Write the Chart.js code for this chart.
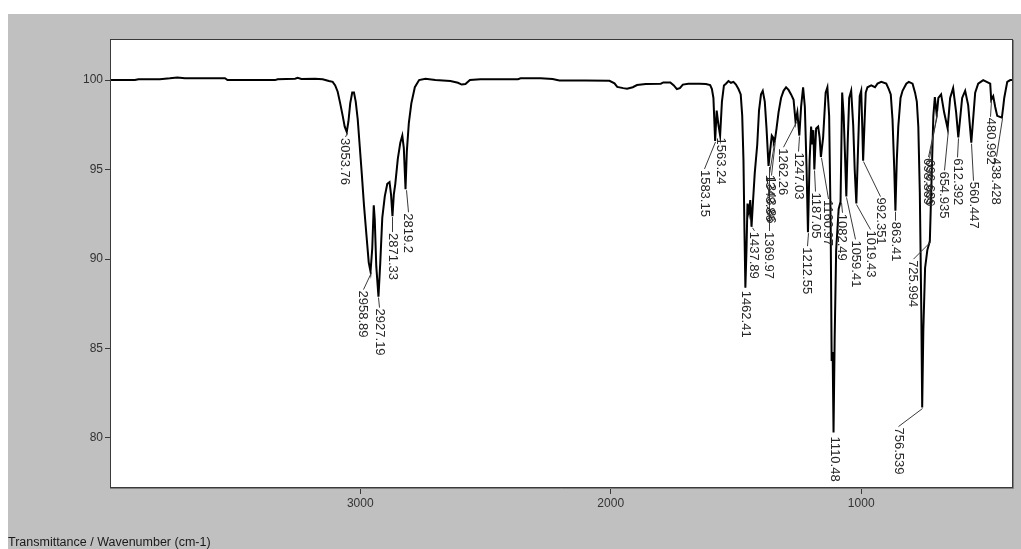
<!DOCTYPE html>
<html>
<head>
<meta charset="utf-8">
<title>Transmittance / Wavenumber</title>
<script src="https://cdn.jsdelivr.net/npm/chart.js@4.4.0/dist/chart.umd.min.js"></script>
<style>
    html, body { margin: 0; padding: 0; background: #ffffff; overflow: hidden; }
    canvas { display: block; }
</style>
</head>
<body>
<canvas id="irChart" width="1021" height="549"></canvas>
<script>
// Spectrum: [wavenumber cm-1, transmittance %]
var trace4000to2740 = [
    [3995, 100.0], [3900, 100.0], [3885, 100.05], [3800, 100.05], [3760, 100.1], [3730, 100.15],
    [3700, 100.1], [3540, 100.1], [3530, 100.0], [3340, 100.0], [3330, 100.05], [3260, 100.08],
    [3250, 100.13], [3235, 100.06], [3180, 100.07], [3150, 100.05], [3125, 99.95], [3110, 99.9],
    [3100, 99.7], [3090, 99.35], [3080, 98.7], [3070, 98.0], [3062, 97.4],
    [3047, 97.7], [3040, 98.7], [3032, 99.3], [3025, 99.3], [3018, 98.8], [3010, 97.8],
    [3002, 96.3], [2994, 94.8], [2985, 93.0], [2975, 91.3], [2966, 89.8],
    [2952, 90.6], [2946, 93.0], [2942, 92.2], [2936, 89.6],
    [2920, 89.8], [2912, 92.3], [2902, 93.5], [2892, 94.2], [2883, 94.3], [2877, 93.6],
    [2866, 93.6], [2860, 94.2], [2850, 95.6], [2840, 96.5], [2832, 96.9], [2826, 96.2],
    [2814, 96.0], [2806, 97.6], [2796, 98.7], [2782, 99.6], [2765, 100.0], [2740, 100.07]
];
var trace2740to1590 = [
    [2700, 100.0], [2640, 99.95], [2610, 99.85], [2595, 99.75], [2580, 99.78], [2562, 100.0],
    [2520, 100.05], [2370, 100.05], [2360, 100.1], [2280, 100.1], [2232, 100.06], [2205, 99.98],
    [2100, 99.97], [2005, 99.96], [1985, 99.82], [1974, 99.62], [1950, 99.55], [1935, 99.52],
    [1912, 99.6], [1895, 99.72], [1860, 99.78], [1800, 99.8], [1790, 99.87], [1762, 99.87],
    [1748, 99.7], [1736, 99.5], [1724, 99.55], [1712, 99.75], [1690, 99.8], [1645, 99.8],
    [1620, 99.78], [1603, 99.72], [1596, 99.5], [1590, 99.0]
];
var trace1590to1000 = [
    [1577, 98.3], [1570, 97.5], [1556, 98.8], [1548, 99.7], [1540, 99.8], [1530, 99.95],
    [1520, 99.85], [1510, 99.9], [1500, 99.75], [1490, 99.5], [1481, 99.2], [1475, 98.0],
    [1470, 95.5], [1466, 91.5], [1458, 90.5], [1454, 93.1], [1448, 92.6], [1443, 93.3],
    [1432, 93.2], [1425, 94.8], [1415, 96.4], [1408, 98.3], [1400, 99.2], [1393, 99.4],
    [1385, 98.8], [1378, 97.3], [1364, 96.0], [1357, 96.9], [1352, 96.8],
    [1338, 97.3], [1330, 98.2], [1320, 99.0], [1310, 99.4], [1300, 99.6], [1290, 99.45],
    [1280, 99.2], [1270, 98.9], [1255, 98.2], [1240, 98.5], [1232, 99.6], [1225, 98.5],
    [1218, 95.0], [1206, 95.5], [1200, 97.4], [1195, 96.4], [1191, 97.2], [1180, 97.3],
    [1172, 97.4], [1166, 96.8], [1152, 96.8], [1142, 99.3], [1135, 99.6], [1128, 98.0],
    [1122, 92.0], [1118, 84.3], [1114, 84.8], [1106, 85.5], [1100, 90.5], [1090, 92.8],
    [1076, 99.3], [1070, 98.0], [1064, 95.5], [1054, 96.5], [1048, 99.0], [1040, 99.4],
    [1032, 97.5], [1026, 95.0], [1013, 96.0], [1006, 99.1], [1000, 99.4]
];
var trace1000to400 = [
    [996, 97.5], [987, 97.5], [982, 99.3], [975, 99.6], [960, 99.7], [945, 99.6], [935, 99.8],
    [920, 99.9], [900, 99.8], [890, 99.5], [882, 99.2], [875, 97.8], [868, 95.0], [858, 95.5],
    [852, 97.4], [843, 99.0], [835, 99.4], [820, 99.8], [810, 99.9], [795, 99.8], [785, 99.3],
    [778, 98.8], [772, 97.4], [766, 93.7], [760, 87.0], [752, 86.0], [745, 89.5], [736, 90.5],
    [719, 94.5], [712, 98.0], [706, 99.05], [692, 99.0], [681, 99.2], [669, 98.2], [645, 99.0],
    [633, 99.55], [621, 98.2], [597, 99.0], [585, 99.4], [573, 98.6], [545, 99.3], [533, 99.8],
    [513, 100.0], [485, 99.8], [473, 99.1], [465, 98.5], [457, 98.0], [433, 98.5], [429, 99.0],
    [417, 99.9], [405, 100.0], [398, 100.0]
];

// Labelled peaks
var peakWn = [3053.76, 2958.89, 2927.19, 2871.33, 2819.2, 1583.15, 1563.24, 1462.41, 1437.89,
    1369.97, 1348.86, 1343.86, 1262.26, 1247.03, 1212.55, 1187.05, 1160.97, 1110.48, 1082.49,
    1059.41, 1019.43, 992.351, 863.41, 756.539, 725.994, 698.869, 696.639, 654.935, 612.392,
    560.447, 480.992, 438.428];
var peakT = [97.1, 89.3, 87.9, 92.4, 93.9, 96.6, 96.9, 88.4, 91.8,
    95.2, 96.5, 96.7, 97.7, 96.9, 91.5, 95.0, 95.7, 80.3, 93.2,
    93.5, 93.1, 95.5, 92.7, 81.7, 91.0, 98.1, 98.3, 97.3, 96.8,
    96.5, 98.9, 97.9];

var xTickValues = [3000, 2000, 1000];
var yTickValues = [80, 85, 90, 95, 100];
var axisTitle = 'Transmittance / Wavenumber (cm-1)';

// label nudges in pixels (dx, dy from the peak to the top of its label)
var labelNudges = [[-2, 6], [-8, 19], [1, 12], [0, 17], [2, 24], [-11, 29], [0, 2], [0, 3], [2, 5],
    [0, 66], [-4.5, 32], [-4.4, 37.4], [-13, 27], [-1, 17], [-1, 15], [1, 23], [7, 43], [1, 4], [1, 12],
    [9, 44], [14, 27], [17, 37], [0, 11], [-24, 20], [-17, 19], [-9, 44], [-8, 49], [-4, 43], [-1, 21],
    [2, 39], [-1, 18], [-6, 40]];

function buildPoints() {
    var pts = [];
    [trace4000to2740, trace2740to1590, trace1590to1000, trace1000to400].forEach(function (seg) {
        seg.forEach(function (p) { pts.push({ x: p[0], y: p[1] }); });
    });
    for (var i = 0; i < peakWn.length; i++) {
        pts.push({ x: peakWn[i], y: peakT[i] });
    }
    pts.sort(function (a, b) { return b.x - a.x; });
    return pts;
}

var framePlugin = {
    id: 'frame',
    beforeDraw: function (chart) {
        var c = chart.ctx, a = chart.chartArea;
        c.save();
        c.fillStyle = '#ffffff';
        c.fillRect(0, 0, chart.width, chart.height);
        c.fillStyle = '#c0c0c0';
        c.fillRect(8, 14, chart.width - 8, chart.height - 14);
        c.fillStyle = '#ffffff';
        c.fillRect(a.left, a.top, a.right - a.left, a.bottom - a.top);
        c.restore();
    },
    afterDraw: function (chart) {
        var c = chart.ctx, a = chart.chartArea;
        c.save();
        c.strokeStyle = '#3a3a3a';
        c.lineWidth = 1;
        c.strokeRect(a.left - 0.5, a.top - 0.5, a.right - a.left + 1, a.bottom - a.top + 1);
        c.strokeStyle = '#808080';
        c.beginPath();
        c.moveTo(a.right + 1.5, a.top);
        c.lineTo(a.right + 1.5, a.bottom + 1.5);
        c.lineTo(a.left - 1, a.bottom + 1.5);
        c.stroke();
        c.fillStyle = '#1a1a1a';
        c.font = '12.5px "Liberation Sans", Arial, sans-serif';
        c.textBaseline = 'alphabetic';
        c.textAlign = 'left';
        c.fillText(axisTitle, 8, 546);
        c.restore();
    }
};

var peakLabelPlugin = {
    id: 'peakLabels',
    afterDatasetsDraw: function (chart, args, opts) {
        var xs = chart.scales.x, ys = chart.scales.y, c = chart.ctx;
        c.save();
        c.font = opts.font;
        c.fillStyle = opts.color;
        c.strokeStyle = opts.lineColor;
        c.lineWidth = 1;
        c.textAlign = 'left';
        c.textBaseline = 'middle';
        for (var i = 0; i < peakWn.length; i++) {
            var px = xs.getPixelForValue(peakWn[i]);
            var py = ys.getPixelForValue(peakT[i]);
            var n = labelNudges[i];
            var lx = px + n[0], ly = py + n[1];
            if (n[1] > 4) {
                c.beginPath();
                c.moveTo(Math.round(px) + 0.5, py + 1);
                c.lineTo(Math.round(lx) + 0.5, ly - 1);
                c.stroke();
            }
            c.save();
            c.translate(lx, ly);
            c.rotate(Math.PI / 2);
            c.fillText(String(peakWn[i]), 0, 0);
            c.restore();
        }
        c.restore();
    }
};

var ctx = document.getElementById('irChart');
new Chart(ctx, {
    type: 'line',
    data: {
        datasets: [{
            data: buildPoints(),
            borderColor: '#000000',
            borderWidth: 2,
            pointRadius: 0,
            tension: 0,
            fill: false
        }]
    },
    options: {
        responsive: false,
        animation: false,
        layout: { padding: { left: 8, top: 40, right: 9, bottom: 0 } },
        plugins: {
            legend: { display: false },
            tooltip: { enabled: false },
            peakLabels: {
                font: '13px "Liberation Sans", Arial, sans-serif',
                color: '#262626',
                lineColor: '#3a3a3a'
            }
        },
        scales: {
            x: {
                type: 'linear',
                reverse: true,
                min: 398,
                max: 3995,
                afterFit: function (s) { s.height = 62; },
                afterBuildTicks: function (s) {
                    s.ticks = xTickValues.map(function (v) { return { value: v }; });
                },
                border: { display: false },
                grid: { drawOnChartArea: false, drawTicks: true, tickLength: 7, tickColor: '#3a3a3a' },
                ticks: {
                    color: '#333333',
                    font: { family: '"Liberation Sans", Arial, sans-serif', size: 12 },
                    padding: 2,
                    maxRotation: 0,
                    callback: function (v) { return String(v); }
                }
            },
            y: {
                min: 77.26,
                max: 102.24,
                afterFit: function (s) { s.width = 103; },
                afterBuildTicks: function (s) {
                    s.ticks = yTickValues.map(function (v) { return { value: v }; });
                },
                border: { display: false },
                grid: { drawOnChartArea: false, drawTicks: true, tickLength: 6, tickColor: '#3a3a3a' },
                ticks: {
                    color: '#333333',
                    font: { family: '"Liberation Sans", Arial, sans-serif', size: 12 },
                    padding: 2,
                    callback: function (v) { return String(v); }
                }
            }
        }
    },
    plugins: [framePlugin, peakLabelPlugin]
});
</script>
</body>
</html>
